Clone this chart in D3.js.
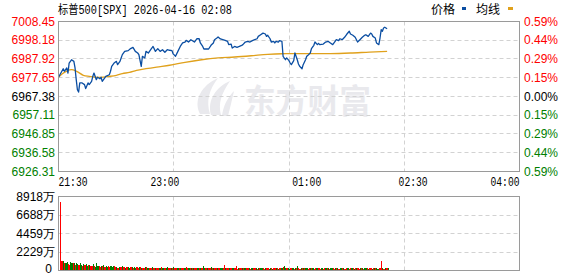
<!DOCTYPE html>
<html><head><meta charset="utf-8">
<script src="https://cdn.jsdelivr.net/npm/d3@7/dist/d3.min.js"></script>
<style>body{margin:0;background:#fff}svg{display:block}</style>
</head><body>
<svg id="c" width="578" height="276"></svg>
<script>
const title = "标普500[SPX] 2026-04-16 02:08";
const legendNames = ["价格", "均线"];
const priceTicks = [7008.45, 6998.18, 6987.92, 6977.65, 6967.38, 6957.11, 6946.85, 6936.58, 6926.31];
const pctLabels = ["0.59%","0.44%","0.29%","0.15%","0.00%","0.15%","0.29%","0.44%","0.59%"];
const volTicks = [8918, 6688, 4459, 2229, 0];
const volTickLabels = ["8918万","6688万","4459万","2229万","0"];
const timeTicks = [0, 90, 210, 300, 390];
const timeLabels = ["21:30","23:00","01:00","02:30","04:00"];
const watermark = "东方财富";

const priceMinutes = [0,4,5,7,8,9,11,13,14,15,16,17,18,20,22,23,25,26,28,29,30,32,33,35,36,37,39,40,43,44,45,47,49,50,52,53,54,56,59,61,63,65,67,68,70,71,73,74,76,77,78,80,82,84,86,88,90,92,94,96,97,99,101,103,105,107,108,110,112,115,117,119,120,122,123,125,127,129,131,132,134,135,137,139,141,143,144,146,147,149,151,153,155,156,158,160,162,164,166,168,169,171,173,175,176,177,179,180,182,183,184,186,187,189,190,192,193,195,196,197,199,200,202,203,204,206,207,209,210,211,213,214,216,217,219,220,221,224,226,228,230,232,234,235,237,238,240,242,244,246,247,249,251,253,255,257,259,260,262,264,265,266,268,269,271,272,273,274,275,276,278];
const prices = [6977.9,6982.6,6981.2,6983.0,6980.2,6985.7,6987.5,6986.6,6983.0,6976.6,6971.1,6969.8,6974.8,6974.8,6973.9,6971.7,6974.8,6973.9,6975.7,6978.4,6980.2,6976.6,6977.9,6977.1,6977.9,6975.7,6977.5,6978.4,6979.3,6981.2,6983.9,6985.7,6986.6,6984.8,6986.6,6988.5,6990.3,6992.1,6992.5,6993.6,6994.3,6992.1,6991.2,6990.3,6983.9,6989.4,6988.5,6992.1,6991.2,6992.1,6993.0,6994.8,6992.1,6993.6,6992.1,6993.0,6991.6,6993.0,6992.7,6992.5,6990.7,6989.4,6992.1,6994.8,6996.7,6997.2,6998.1,6997.2,6998.5,6997.2,6999.0,6999.0,6996.7,6994.8,6993.4,6993.4,6993.4,6995.4,6996.7,6998.5,6999.4,7000.0,6998.9,6998.5,6998.1,6997.6,6995.8,6996.1,6993.9,6994.8,6994.3,6994.8,6995.4,6995.8,6997.2,6997.6,6997.2,6998.0,6998.5,6999.0,7000.3,7001.2,7002.1,7001.6,7000.3,7000.9,6999.0,6997.2,6997.6,6996.7,6997.6,6997.2,6998.0,6997.6,6989.4,6987.5,6988.5,6987.0,6985.7,6984.8,6987.0,6991.2,6987.5,6985.2,6983.9,6982.6,6984.8,6987.5,6989.4,6989.9,6991.2,6993.6,6995.4,6997.2,6995.8,6996.5,6995.8,6996.1,6997.2,6997.6,6996.7,6995.8,6997.6,6998.5,6998.0,6999.0,6998.5,6999.8,7001.6,7003.1,7001.6,7000.9,6999.8,6997.2,6998.5,6999.8,7000.9,7001.2,7000.3,7002.1,7001.6,7000.3,6999.4,6996.7,6995.8,6999.4,7004.0,7003.1,7004.9,7005.3,7004.5];

const avgMinutes = [0,3,7,11,15,21,26,35,43,49,54,60,66,74,83,94,107,121,135,149,163,177,189,230,247,263,278];
const avgPrices = [6977.9,6979.7,6981.3,6982.05,6981.3,6979.0,6978.4,6977.9,6978.4,6979.0,6979.9,6980.6,6981.7,6982.6,6983.5,6984.5,6986.1,6987.5,6988.5,6989.0,6989.7,6990.5,6990.8,6990.9,6991.2,6991.7,6992.1];

const volumes = [
8270,1150,1200,1150,900,950,1000,800,700,1000,950,850,900,700,950,800,650,850,700,600,
750,650,800,550,700,650,500,600,750,550,480,900,520,600,450,500,550,620,480,560,
420,500,450,520,380,600,560,480,420,350,400,460,380,520,420,360,400,450,380,340,
420,380,300,450,350,400,320,380,420,340,300,360,420,380,300,350,330,280,400,360,
300,340,280,360,320,300,380,260,340,300,280,420,300,260,340,300,380,280,320,300,
260,300,340,280,320,250,300,400,280,260,300,350,280,320,250,300,270,330,280,260,
300,520,340,280,260,300,280,320,420,260,300,250,280,300,360,260,280,300,250,690,
320,260,300,280,250,280,300,280,260,520,240,280,320,260,300,300,280,260,300,250,
280,240,300,260,280,250,300,240,260,280,300,250,260,240,280,260,300,240,280,260,
240,260,300,250,280,240,260,300,280,380,500,300,260,280,240,300,260,280,240,260,
300,520,280,240,260,300,250,280,350,260,240,280,300,250,260,240,280,260,300,250,
240,260,280,240,300,260,250,280,240,260,300,250,240,280,260,300,240,260,280,250,
260,240,300,250,280,240,260,280,250,240,260,300,250,240,280,260,250,240,280,260,
250,240,280,260,240,300,260,250,280,240,260,300,1100,280,240,360,260,300,280];
const volumeDirs =
"rrrgrggrrggrgrggrggr" + "grggrgrrgrgggrrgrgrg" + "grrgggrrgrgrrgrgrrgg" + "rgrggrrgrgrrgrggrrgr" +
"rgrrggrgrrggrrgrgrrg" + "grgrrggrrgrgrgrrggrg" + "rggrrgrrgrgrrgrrggrr" + "grrgrrggrrrgrrgrggrr" +
"grggrrgrgrggrrgrrggr" + "grrgrgrggrggrggrrgrg" + "rgrrgrgrggrrgrgrrggr" + "rggrrgrgrggrrgrgrggr" +
"grrggrrgrgrgrrgrgrgg" + "rgrrgrgrggrrrgrgrrg";

const svg = d3.select("#c");
const L = 58.5, R = 519.5, T = 21.5, B = 171.5, VT = 196.5, VB = 270.5;
const x = d3.scaleLinear().domain([0, 390]).range([L, R]);
const gx = d3.scaleLinear().domain([0, 4]).range([L, R]);
const y = d3.scaleLinear().domain([6926.31, 7008.45]).range([B, T]);
const yv = d3.scaleLinear().domain([0, 8918]).range([VB, VT]);
const snap = v => Math.floor(v) + 0.5;
const redC = "#ff0000", greenC = "#008000", gridC = "#d2d2d2", frameC = "#9a9a9a";
const numFont = "'Liberation Sans', Arial, sans-serif";
const monoFont = "'Liberation Mono', 'DejaVu Sans Mono', monospace";
const cjkFont = "'Noto Sans CJK SC', sans-serif";

// watermark
const wm = svg.append("g").attr("fill", "#e9e9ed");
wm.append("path").attr("d", "M200 114 C193 100 202 85 218 78 C209 90 206 101 210 114 Z");
wm.append("path").attr("d", "M211 115 C207 100 216 87 230 81 C221 94 218 104 221 115 Z");
wm.append("path").attr("d", "M222 116 C223 105 229 96 234 91 C232 100 230 108 228 116 Z");
wm.append("text").attr("x", 244).attr("y", 113).attr("font-family", cjkFont)
  .attr("font-weight", "bold").attr("font-size", 33)
  .attr("textLength", 127).attr("lengthAdjust", "spacingAndGlyphs").text(watermark);

// grids main
const g = svg.append("g");
g.selectAll(".hg").data(priceTicks.slice(1, -1)).join("line")
  .attr("x1", L).attr("x2", R).attr("y1", d => snap(y(d))).attr("y2", d => snap(y(d)))
  .attr("stroke", gridC).attr("stroke-dasharray", "4,3");
g.selectAll(".vg").data([1, 2, 3]).join("line")
  .attr("x1", d => snap(gx(d))).attr("x2", d => snap(gx(d))).attr("y1", T).attr("y2", B)
  .attr("stroke", gridC).attr("stroke-dasharray", "4,3");
// grids volume
const vg = svg.append("g");
vg.selectAll("line.h").data(volTicks.slice(1, -1)).join("line")
  .attr("x1", L).attr("x2", R).attr("y1", d => snap(yv(d))).attr("y2", d => snap(yv(d)))
  .attr("stroke", gridC).attr("stroke-dasharray", "4,3");
vg.selectAll("line.v").data([1, 2, 3]).join("line")
  .attr("x1", d => snap(gx(d))).attr("x2", d => snap(gx(d))).attr("y1", VT).attr("y2", VB)
  .attr("stroke", gridC).attr("stroke-dasharray", "4,3");

// volume bars
svg.append("g").attr("shape-rendering", "crispEdges").selectAll("rect").data(volumes).join("rect")
  .attr("x", (d, i) => x(i) + 1).attr("width", 1.2)
  .attr("y", d => yv(d)).attr("height", d => VB - yv(d))
  .attr("fill", (d, i) => volumeDirs[i] === "g" ? greenC : redC);

// avg line
const avgData = avgMinutes.map((m, i) => [m, avgPrices[i]]);
svg.append("path").datum(avgData)
  .attr("d", d3.line().x(d => x(d[0])).y(d => y(d[1])).curve(d3.curveMonotoneX))
  .attr("fill", "none").attr("stroke", "#e0a11c").attr("stroke-width", 1.3);

// price line
const priceData = priceMinutes.map((m, i) => [m, prices[i]]);
svg.append("path").datum(priceData)
  .attr("d", d3.line().x(d => x(d[0])).y(d => y(d[1])))
  .attr("fill", "none").attr("stroke", "#0b4ea2").attr("stroke-width", 1.3)
  .attr("stroke-linejoin", "round");

// frames
svg.append("rect").attr("x", L).attr("y", T).attr("width", R - L).attr("height", B - T)
  .attr("fill", "none").attr("stroke", frameC);
svg.append("rect").attr("x", L).attr("y", VT).attr("width", R - L).attr("height", VB - VT)
  .attr("fill", "none").attr("stroke", frameC);

// left price labels
const mid = 4;
const colorFor = i => i < mid ? redC : (i === mid ? "#000" : greenC);
svg.append("g").selectAll("text").data(priceTicks).join("text")
  .attr("x", 55).attr("y", d => y(d) + 4.2).attr("text-anchor", "end")
  .attr("font-family", numFont).attr("font-size", 12)
  .attr("fill", (d, i) => colorFor(i)).text(d => d.toFixed(2));
// right pct labels
svg.append("g").selectAll("text").data(pctLabels).join("text")
  .attr("x", 524).attr("y", (d, i) => y(priceTicks[i]) + 4.2)
  .attr("font-family", numFont).attr("font-size", 12)
  .attr("fill", (d, i) => colorFor(i)).text(d => d);
// volume labels
const lastV = volTicks.length - 1;
svg.append("g").selectAll("text").data(volTicks).join("text")
  .attr("x", (d, i) => i === lastV ? 52 : 55)
  .attr("y", (d, i) => i === lastV ? yv(d) + 2.5 : yv(d) + 4.2)
  .attr("text-anchor", "end").attr("font-family", numFont).attr("font-size", 12)
  .attr("fill", "#000").text((d, i) => volTickLabels[i]);
// time labels
svg.append("g").selectAll("text").data(timeTicks).join("text")
  .attr("x", d => x(d)).attr("y", 186)
  .attr("text-anchor", (d, i) => i === 0 ? "start" : (i === timeTicks.length - 1 ? "end" : "middle"))
  .attr("font-family", monoFont).attr("font-size", 12)
  .attr("textLength", 29).attr("lengthAdjust", "spacingAndGlyphs")
  .attr("fill", "#000").text((d, i) => timeLabels[i]);

// title
svg.append("text").attr("x", 58).attr("y", 14).attr("font-family", monoFont + ", " + cjkFont)
  .attr("font-size", 12).attr("textLength", 174).attr("lengthAdjust", "spacingAndGlyphs")
  .attr("fill", "#000").text(title);

// legend
const leg = svg.append("g");
leg.append("text").attr("x", 431).attr("y", 14).attr("font-family", cjkFont).attr("font-size", 12).text(legendNames[0]);
leg.append("rect").attr("x", 462).attr("y", 7).attr("width", 4).attr("height", 3).attr("fill", "#0b4ea2");
leg.append("text").attr("x", 476).attr("y", 14).attr("font-family", cjkFont).attr("font-size", 12).text(legendNames[1]);
leg.append("rect").attr("x", 508).attr("y", 7).attr("width", 5).attr("height", 3).attr("fill", "#e0a11c");
</script>
</body></html>
